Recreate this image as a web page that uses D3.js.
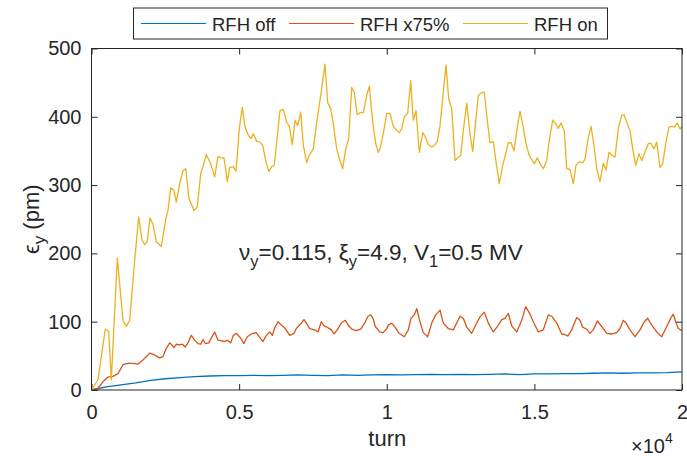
<!DOCTYPE html>
<html>
<head>
<meta charset="utf-8">
<script src="https://cdn.jsdelivr.net/npm/d3@7"></script>
<style>
  html, body { margin: 0; padding: 0; background: #fff; }
  svg { display: block; font-family: "Liberation Sans", Arial, Helvetica, sans-serif; }
</style>
</head>
<body>
<svg id="chart" width="687" height="456"></svg>
<script>
// Vertical emittance growth vs. turn for three RF-harmonic settings
const seriesNames = ["RFH off", "RFH x75%", "RFH on"];
const seriesColors = ["#0072BD", "#D95319", "#EDB120"];

const offTurns = [0,500,1000,1500,2000,2500,3000,3500,4000,4500,5000,5500,6000,6500,7000,7500,8000,8500,9000,9500,10000,10500,11000,11500,12000,12500,13000,13500,14000,14500,15000,15500,16000,16500,17000,17500,18000,18500,19000,19500,20000];
const offEmit = [0,4.5,7.5,10.5,14,16.5,18,19.5,20.5,21,21,21.5,21,21.5,22,21.5,21,22,21.5,22,22.5,22,22.5,23,22.5,23,22.5,23,23.5,22.5,23.5,23.5,24,24,24.5,25,24.5,25,25,25.5,26.5];

const halfTurns = [0,196,390,559,728,898,1067,1236,1406,1575,1744,1971,2141,2310,2422,2533,2649,2703,2794,2872,2987,3075,3177,3268,3380,3495,3607,3699,3777,3854,3970,4081,4173,4285,4396,4511,4600,4715,4803,4904,5053,5165,5277,5412,5582,5697,5809,5920,6036,6124,6205,6317,6429,6564,6713,6859,6937,7106,7197,7275,7390,7560,7672,7783,7875,7986,8122,8213,8325,8461,8596,8711,8823,8969,9118,9253,9365,9457,9534,9612,9761,9873,9985,10053,10168,10280,10415,10595,10730,10821,10933,11015,11126,11238,11387,11523,11658,11804,11915,12085,12254,12369,12481,12593,12708,12877,13047,13158,13304,13440,13609,13778,13893,14005,14117,14232,14402,14571,14707,14828,14964,15133,15302,15472,15587,15756,15926,16037,16129,16264,16434,16546,16637,16772,16884,16996,17131,17280,17450,17619,17788,17900,18012,18103,18239,18408,18578,18723,18838,18974,19143,19313,19482,19628,19706,19787,19875,20000];
const halfEmit = [0,1.5,12,19,20,24,37,39,39,38,44,54,51,47,49,61,69,67,62,67,66,67,63,69,80,73,68,67,74,68,69,78,85,73,72,71,73,69,80,83,76,68,78,82,84,77,71,80,85,80,91,100,95,90,80,83,90,98,103,98,90,88,85,100,94,92,88,82,88,98,102,94,89,87,89,98,108,110,105,93,85,84,89,95,98,92,83,78,88,105,110,119,100,84,78,98,110,117,98,90,88,98,108,105,92,83,98,107,114,98,85,95,103,105,112,94,85,102,122,113,100,85,88,110,108,98,82,81,79,88,106,102,92,89,83,88,101,93,83,82,84,90,102,98,88,78,88,100,105,95,85,78,93,106,111,100,90,87];

const onTurns = [0,220,467,583,671,874,1067,1179,1294,1463,1599,1710,1802,1890,1981,2083,2195,2364,2513,2591,2683,2794,2872,2987,3099,3191,3302,3472,3583,3699,3777,3888,4037,4173,4285,4376,4488,4600,4681,4803,4894,5006,5108,5199,5311,5402,5480,5595,5707,5799,5910,6012,6103,6191,6384,6496,6611,6700,6801,6892,6984,7086,7174,7289,7377,7512,7628,7763,7909,8000,8102,8190,8305,8417,8508,8610,8711,8813,8901,9003,9094,9206,9321,9409,9524,9626,9714,9771,9883,9998,10110,10222,10337,10425,10507,10595,10710,10811,10899,10991,11103,11218,11306,11407,11523,11611,11712,11804,11915,12007,12098,12200,12312,12403,12505,12593,12708,12820,12911,13013,13101,13193,13304,13385,13497,13609,13700,13812,13927,14039,14117,14209,14310,14402,14513,14625,14717,14818,14998,15099,15191,15302,15418,15506,15621,15723,15811,15902,16014,16095,16207,16319,16410,16522,16637,16715,16827,16918,17020,17111,17223,17335,17426,17528,17640,17731,17843,17958,18036,18148,18239,18330,18432,18544,18635,18747,18859,18950,19052,19143,19255,19346,19458,19560,19651,19739,19841,19932,20000];
const onEmit = [0,15,89,86,15,193,102,93,102,190,253,220,213,218,252,243,217,210,249,263,296,292,275,302,321,324,280,263,268,317,327,345,331,312,342,340,340,305,326,327,320,383,414,385,373,368,375,364,363,358,334,320,327,329,409,411,392,386,359,395,387,407,358,333,344,353,392,431,477,421,412,390,353,336,324,353,368,443,436,403,406,406,431,445,392,361,348,353,375,405,405,386,380,377,382,400,405,453,395,409,348,377,370,359,356,358,364,387,436,476,426,412,336,340,343,380,420,375,349,392,431,435,436,402,362,364,334,302,329,348,362,362,350,379,408,385,361,344,331,340,331,324,336,366,395,390,383,391,379,324,323,302,329,334,333,338,370,386,358,324,305,332,322,348,343,341,383,402,403,390,380,353,329,346,336,348,361,361,353,363,326,331,363,385,386,385,391,382,386];

const xTicks = [0, 5000, 10000, 15000, 20000];
const xTickLabels = ["0", "0.5", "1", "1.5", "2"];
const yTicks = [0, 100, 200, 300, 400, 500];

const pairs = [[offTurns, offEmit], [halfTurns, halfEmit], [onTurns, onEmit]];
pairs.forEach(([t, v], i) => {
  if (t.length !== v.length) throw new Error("length mismatch in " + seriesNames[i] + ": " + t.length + " vs " + v.length);
});

const svg = d3.select("#chart");
const ink = "#262626";
const plotLeft = 91.5, plotRight = 682, plotTop = 48.5, plotBottom = 390;

const x = d3.scaleLinear().domain([0, 20000]).range([plotLeft, plotRight]);
const y = d3.scaleLinear().domain([0, 500]).range([plotBottom, plotTop]);

// axes: ticks point inward on all four sides
const tickFont = 20;
const gx = svg.append("g").attr("transform", `translate(0,${plotBottom})`)
  .call(d3.axisBottom(x).tickValues(xTicks).tickFormat((d, i) => xTickLabels[i])
    .tickSizeInner(-6).tickSizeOuter(0).tickPadding(15));
const gxTop = svg.append("g").attr("transform", `translate(0,${plotTop})`)
  .call(d3.axisTop(x).tickValues(xTicks).tickFormat("").tickSizeInner(-6).tickSizeOuter(0));
const gy = svg.append("g").attr("transform", `translate(${plotLeft},0)`)
  .call(d3.axisLeft(y).tickValues(yTicks).tickSizeInner(-6).tickSizeOuter(0).tickPadding(10));
const gyRight = svg.append("g").attr("transform", `translate(${plotRight},0)`)
  .call(d3.axisRight(y).tickValues(yTicks).tickFormat("").tickSizeInner(-6).tickSizeOuter(0));

[gx, gxTop, gy, gyRight].forEach(g => {
  g.select(".domain").remove();
  g.selectAll(".tick line").attr("stroke", ink).attr("stroke-width", 1);
  g.selectAll(".tick text").attr("fill", ink).style("font-size", tickFont + "px")
    .style("font-family", '"Liberation Sans", Arial, sans-serif');
});

// series lines
const line = d3.line().x(d => x(d[0])).y(d => y(d[1]));
pairs.forEach(([t, v], i) => {
  svg.append("path")
    .datum(t.map((tt, k) => [tt, v[k]]))
    .attr("fill", "none")
    .attr("stroke", seriesColors[i])
    .attr("stroke-width", 1.3)
    .attr("stroke-linejoin", "round")
    .attr("d", line);
});

// axes box
svg.append("rect")
  .attr("x", plotLeft).attr("y", plotTop)
  .attr("width", plotRight - plotLeft).attr("height", plotBottom - plotTop)
  .attr("fill", "none").attr("stroke", ink).attr("stroke-width", 1);

// x label and exponent
svg.append("text").attr("x", (plotLeft + plotRight) / 2 + 0.5).attr("y", 446)
  .attr("text-anchor", "middle").attr("fill", ink).style("font-size", "22px").text("turn");
const expo = svg.append("text").attr("x", 631).attr("y", 453).attr("fill", ink).style("font-size", "20px");
expo.append("tspan").text("×10");
expo.append("tspan").attr("dy", -10).style("font-size", "14px").text("4");

// y label
const yl = svg.append("text")
  .attr("transform", `translate(39,${(plotTop + plotBottom) / 2}) rotate(-90)`)
  .attr("text-anchor", "middle").attr("fill", ink).style("font-size", "22px");
yl.append("tspan").text("ϵ");
yl.append("tspan").attr("dy", 6).style("font-size", "17px").text("y");
yl.append("tspan").attr("dy", -6).text(" (pm)");

// annotation with machine parameters
const ann = svg.append("text").attr("x", 239).attr("y", 260).attr("fill", ink).style("font-size", "22.5px");
const parts = [["ν", 0], ["y", 1], ["=0.115, ", 0], ["ξ", 0], ["y", 1], ["=4.9, V", 0], ["1", 1], ["=0.5 MV", 0]];
let prevSub = 0;
parts.forEach(([s, sub]) => {
  const ts = ann.append("tspan").text(s);
  const dy = (sub ? 7 : 0) - (prevSub ? 7 : 0);
  if (dy) ts.attr("dy", dy);
  if (sub) ts.style("font-size", "16.5px");
  prevSub = sub;
});

// legend
const lg = svg.append("g");
lg.append("rect").attr("x", 133.5).attr("y", 8).attr("width", 474).attr("height", 31)
  .attr("fill", "#fff").attr("stroke", ink).attr("stroke-width", 1);
const legendLineX = [141, 289, 463];
seriesNames.forEach((name, i) => {
  lg.append("line").attr("x1", legendLineX[i]).attr("x2", legendLineX[i] + 65)
    .attr("y1", 23.5).attr("y2", 23.5).attr("stroke", seriesColors[i]).attr("stroke-width", 1.2);
  lg.append("text").attr("x", legendLineX[i] + 71).attr("y", 30.5).attr("fill", ink)
    .style("font-size", "18.5px").text(name);
});
</script>
</body>
</html>
